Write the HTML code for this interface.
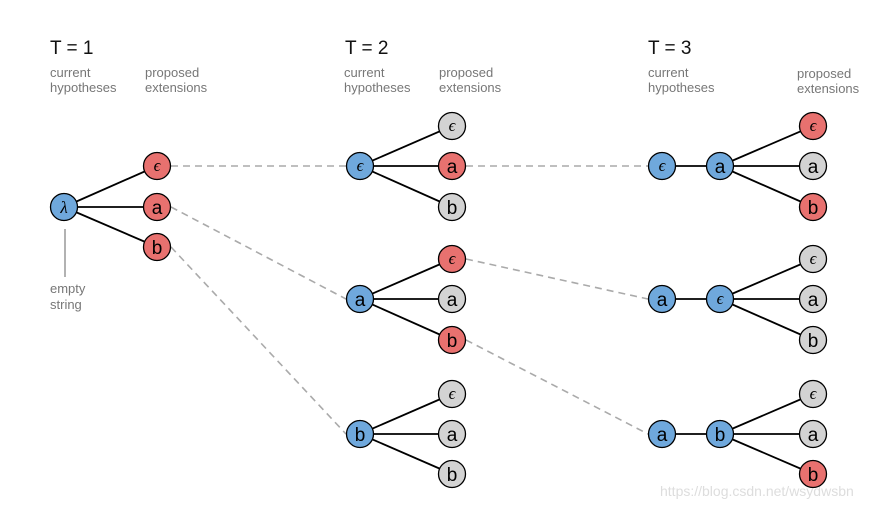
<!DOCTYPE html>
<html><head><meta charset="utf-8"><style>
html,body{margin:0;padding:0;background:#fff;}
svg{display:block;}
text{font-family:"Liberation Sans",sans-serif;}
</style></head><body>
<svg width="895" height="507" viewBox="0 0 895 507" xmlns="http://www.w3.org/2000/svg">
<g font-size="19" fill="#111">
<text x="50" y="54">T = 1</text>
<text x="345" y="54">T = 2</text>
<text x="648" y="54">T = 3</text>
</g>
<g font-size="13" fill="#777">
<text x="50" y="77">current</text><text x="50" y="92">hypotheses</text>
<text x="145" y="77">proposed</text><text x="145" y="92">extensions</text>
<text x="344" y="77">current</text><text x="344" y="92">hypotheses</text>
<text x="439" y="77">proposed</text><text x="439" y="92">extensions</text>
<text x="648" y="77">current</text><text x="648" y="92">hypotheses</text>
<text x="797" y="78">proposed</text><text x="797" y="93">extensions</text>
<text x="50" y="293">empty</text><text x="50" y="309">string</text>
</g>
<line x1="65" y1="229" x2="65" y2="277" stroke="#999" stroke-width="1.5"/>
<g stroke="#aaa" stroke-width="1.6" stroke-dasharray="7,5" fill="none">
<line x1="171" y1="166" x2="346" y2="166"/>
<line x1="171" y1="207" x2="346" y2="299"/>
<line x1="171" y1="247" x2="346" y2="434"/>
<line x1="466" y1="166" x2="648" y2="166"/>
<line x1="466" y1="259" x2="648" y2="299"/>
<line x1="466" y1="340" x2="648" y2="434"/>
</g>
<g stroke="#000" stroke-width="1.8">
<line x1="64" y1="207" x2="157" y2="166"/><line x1="64" y1="207" x2="157" y2="207"/><line x1="64" y1="207" x2="157" y2="247"/>
<line x1="360" y1="166" x2="452" y2="126"/><line x1="360" y1="166" x2="452" y2="166"/><line x1="360" y1="166" x2="452" y2="207"/>
<line x1="360" y1="299" x2="452" y2="259"/><line x1="360" y1="299" x2="452" y2="299"/><line x1="360" y1="299" x2="452" y2="340"/>
<line x1="360" y1="434" x2="452" y2="394"/><line x1="360" y1="434" x2="452" y2="434"/><line x1="360" y1="434" x2="452" y2="474"/>
<line x1="662" y1="166" x2="720" y2="166"/>
<line x1="720" y1="166" x2="813" y2="126"/><line x1="720" y1="166" x2="813" y2="166"/><line x1="720" y1="166" x2="813" y2="207"/>
<line x1="662" y1="299" x2="720" y2="299"/>
<line x1="720" y1="299" x2="813" y2="259"/><line x1="720" y1="299" x2="813" y2="299"/><line x1="720" y1="299" x2="813" y2="340"/>
<line x1="662" y1="434" x2="720" y2="434"/>
<line x1="720" y1="434" x2="813" y2="394"/><line x1="720" y1="434" x2="813" y2="434"/><line x1="720" y1="434" x2="813" y2="474"/>
</g>
<text x="660" y="496" font-size="14" fill="#ddd">https://blog.csdn.net/wsydwsbn</text>
<defs>
<g id="n"><circle r="13.5" stroke="#000" stroke-width="1.3"/></g>
</defs>
<g stroke="#000" stroke-width="1.3">
<!-- blue -->
<g fill="#6fa8dc">
<circle cx="64" cy="207" r="13.5"/>
<circle cx="360" cy="166" r="13.5"/><circle cx="360" cy="299" r="13.5"/><circle cx="360" cy="434" r="13.5"/>
<circle cx="662" cy="166" r="13.5"/><circle cx="720" cy="166" r="13.5"/>
<circle cx="662" cy="299" r="13.5"/><circle cx="720" cy="299" r="13.5"/>
<circle cx="662" cy="434" r="13.5"/><circle cx="720" cy="434" r="13.5"/>
</g>
<g fill="#e8716f">
<circle cx="157" cy="166" r="13.5"/><circle cx="157" cy="207" r="13.5"/><circle cx="157" cy="247" r="13.5"/>
<circle cx="452" cy="166" r="13.5"/><circle cx="452" cy="259" r="13.5"/><circle cx="452" cy="340" r="13.5"/>
<circle cx="813" cy="126" r="13.5"/><circle cx="813" cy="207" r="13.5"/><circle cx="813" cy="474" r="13.5"/>
</g>
<g fill="#d3d3d3">
<circle cx="452" cy="126" r="13.5"/><circle cx="452" cy="207" r="13.5"/><circle cx="452" cy="299" r="13.5"/>
<circle cx="452" cy="394" r="13.5"/><circle cx="452" cy="434" r="13.5"/><circle cx="452" cy="474" r="13.5"/>
<circle cx="813" cy="166" r="13.5"/>
<circle cx="813" cy="259" r="13.5"/><circle cx="813" cy="299" r="13.5"/><circle cx="813" cy="340" r="13.5"/>
<circle cx="813" cy="394" r="13.5"/><circle cx="813" cy="434" r="13.5"/>
</g>
</g>
<g font-size="19" fill="#000" text-anchor="middle">
<text x="157" y="214">a</text><text x="157" y="254">b</text>
<text x="452" y="173">a</text><text x="452" y="214">b</text>
<text x="360" y="306">a</text><text x="452" y="306">a</text><text x="452" y="347">b</text>
<text x="360" y="441">b</text><text x="452" y="441">a</text><text x="452" y="481">b</text>
<text x="720" y="173">a</text><text x="813" y="173">a</text><text x="813" y="214">b</text>
<text x="662" y="306">a</text><text x="813" y="306">a</text><text x="813" y="347">b</text>
<text x="662" y="441">a</text><text x="720" y="441">b</text><text x="813" y="441">a</text><text x="813" y="481">b</text>
</g>
<g font-size="17" font-style="italic" fill="#000" text-anchor="middle" font-family="Liberation Serif,serif">
<text x="64" y="213" style="font-family:'Liberation Serif',serif">λ</text>
<text x="157" y="171" style="font-family:'Liberation Serif',serif">ϵ</text>
<text x="360" y="171" style="font-family:'Liberation Serif',serif">ϵ</text>
<text x="452" y="131" style="font-family:'Liberation Serif',serif">ϵ</text>
<text x="452" y="264" style="font-family:'Liberation Serif',serif">ϵ</text>
<text x="452" y="399" style="font-family:'Liberation Serif',serif">ϵ</text>
<text x="662" y="171" style="font-family:'Liberation Serif',serif">ϵ</text>
<text x="813" y="131" style="font-family:'Liberation Serif',serif">ϵ</text>
<text x="720" y="304" style="font-family:'Liberation Serif',serif">ϵ</text>
<text x="813" y="264" style="font-family:'Liberation Serif',serif">ϵ</text>
<text x="813" y="399" style="font-family:'Liberation Serif',serif">ϵ</text>
</g>
</svg>
</body></html>
